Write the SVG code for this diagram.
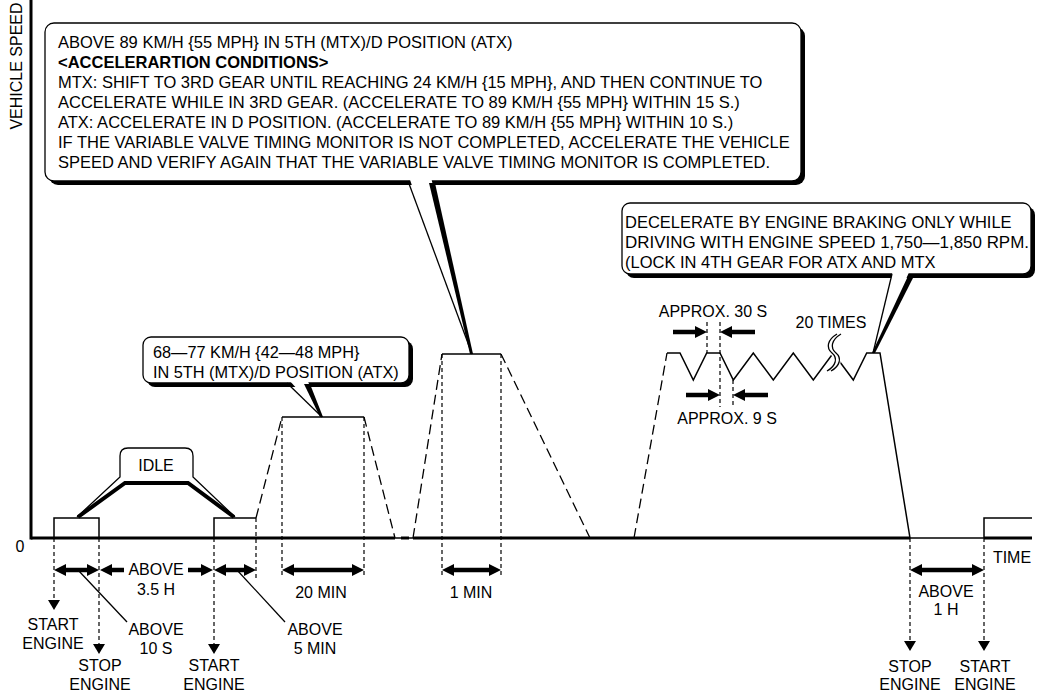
<svg xmlns="http://www.w3.org/2000/svg" width="1038" height="697" viewBox="0 0 1038 697">
<style>
text{font-family:"Liberation Sans",Arial,sans-serif;font-size:16px;fill:#000}
.c{font-size:16.5px}
.b{font-weight:bold}
.m{text-anchor:middle}
.thin{fill:none;stroke:#000;stroke-width:1.3}
.trace{fill:none;stroke:#000;stroke-width:1.5}
.dash{fill:none;stroke:#000;stroke-width:1.3;stroke-dasharray:10 5}
.guide{fill:none;stroke:#000;stroke-width:1.2;stroke-dasharray:4 3}
.base{fill:none;stroke:#000;stroke-width:3}
.arr{fill:none;stroke:#000;stroke-width:4.5}
.box{fill:#fff;stroke:#000;stroke-width:1.3}
.sh{fill:#000}
.wh{fill:#fff;stroke:none}
</style>
<defs>
<marker id="ah" viewBox="0 0 12 12" refX="4" refY="6" markerWidth="12" markerHeight="12" markerUnits="userSpaceOnUse" orient="auto-start-reverse"><path d="M0,0 L12,6 L0,12 z"/></marker>
</defs>

<g id="axes">
<line x1="31" y1="0" x2="31" y2="539.5" class="base"/>
<line x1="31" y1="538" x2="1032" y2="538" class="thin"/>
<text transform="translate(22,66) rotate(-90)" class="m">VEHICLE SPEED</text>
<text x="20" y="552" class="m">0</text>
<text x="1012" y="563" class="m">TIME</text>
</g>

<g id="connectors">
<line x1="31" y1="538" x2="395" y2="538" class="base"/>
<line x1="401" y1="538" x2="409" y2="538" class="base"/>
<line x1="413" y1="538" x2="910" y2="538" class="base"/>
<line x1="984" y1="538" x2="1032" y2="538" class="base"/>
<rect x="54" y="518" width="45" height="20" class="trace"/>
<polyline points="214,538 214,518 256,518" class="trace"/>
<line x1="256" y1="518" x2="282" y2="417" class="dash"/>
<line x1="282" y1="417" x2="364" y2="417" class="trace"/>
<line x1="364" y1="417" x2="395" y2="538" class="dash"/>
<line x1="413" y1="538" x2="442" y2="354" class="dash"/>
<line x1="442" y1="354" x2="501" y2="354" class="trace"/>
<line x1="501" y1="354" x2="590" y2="538" class="dash"/>
<line x1="634" y1="538" x2="667" y2="353" class="dash"/>
<polyline points="667,353 680,353 693.3,380 706.7,353 720,353 733.3,380 753.3,353 773.3,380 793.3,353 813.3,380 833.3,353 853.3,380 866.7,353 880,353 910,538" class="trace"/>
<polyline points="984,538 984,518 1032,518" class="trace"/>
<path d="M839,334 C829,340 828,348 834,353 C840,358 838,366 829,371" fill="none" stroke="#fff" stroke-width="7"/>
<path d="M837,334 C827,340 826,348 832,353 C838,358 836,366 827,371" class="thin"/>
<path d="M841,334 C831,340 830,348 836,353 C842,358 840,366 831,371" class="thin"/>

<line x1="256" y1="518" x2="256" y2="578" class="guide"/>
<line x1="282" y1="417" x2="282" y2="578" class="guide"/>
<line x1="364" y1="417" x2="364" y2="578" class="guide"/>
<line x1="442" y1="354" x2="442" y2="578" class="guide"/>
<line x1="501" y1="354" x2="501" y2="578" class="guide"/>
<line x1="707" y1="322" x2="707" y2="353" class="guide"/>
<line x1="720" y1="322" x2="720" y2="407" class="guide"/>
<line x1="733" y1="380" x2="733" y2="407" class="guide"/>
<line x1="54" y1="538" x2="54" y2="600" class="guide"/>
<line x1="99" y1="538" x2="99" y2="644" class="guide"/>
<line x1="214" y1="538" x2="214" y2="644" class="guide"/>
<line x1="910" y1="538" x2="910" y2="641" class="guide"/>
<line x1="984" y1="538" x2="984" y2="641" class="guide"/>
<polygon points="48,600 60,600 54,610"/>
<polygon points="93,644 105,644 99,654"/>
<polygon points="208,644 220,644 214,654"/>
<polygon points="904,641 916,641 910,651"/>
<polygon points="978,641 990,641 984,651"/>

<line x1="62" y1="570" x2="91" y2="570" class="arr" marker-start="url(#ah)" marker-end="url(#ah)"/>
<line x1="124" y1="570" x2="108" y2="570" class="arr" marker-end="url(#ah)"/>
<line x1="188" y1="570" x2="205" y2="570" class="arr" marker-end="url(#ah)"/>
<line x1="222" y1="570" x2="248" y2="570" class="arr" marker-start="url(#ah)" marker-end="url(#ah)"/>
<line x1="290" y1="570" x2="356" y2="570" class="arr" marker-start="url(#ah)" marker-end="url(#ah)"/>
<line x1="450" y1="570" x2="493" y2="570" class="arr" marker-start="url(#ah)" marker-end="url(#ah)"/>
<line x1="918" y1="570" x2="976" y2="570" class="arr" marker-start="url(#ah)" marker-end="url(#ah)"/>
<line x1="673" y1="332" x2="699" y2="332" class="arr" marker-end="url(#ah)"/>
<line x1="755" y1="332" x2="728" y2="332" class="arr" marker-end="url(#ah)"/>
<line x1="686" y1="395" x2="712" y2="395" class="arr" marker-end="url(#ah)"/>
<line x1="768" y1="395" x2="741" y2="395" class="arr" marker-end="url(#ah)"/>
<line x1="78" y1="570" x2="127" y2="622" class="thin"/>
<line x1="237" y1="570" x2="285" y2="622" class="thin"/>
</g>

<g id="labels">
<text x="713" y="317" class="m">APPROX. 30 S</text>
<text x="831" y="328" class="m">20 TIMES</text>
<text x="727" y="424" class="m">APPROX. 9 S</text>
<text x="53" y="630" class="m">START</text>
<text x="53" y="649" class="m">ENGINE</text>
<text x="100" y="671" class="m">STOP</text>
<text x="100" y="690" class="m">ENGINE</text>
<text x="156" y="635" class="m">ABOVE</text>
<text x="156" y="654" class="m">10 S</text>
<text x="156" y="575" class="m">ABOVE</text>
<text x="156" y="595" class="m">3.5 H</text>
<text x="214" y="671" class="m">START</text>
<text x="214" y="690" class="m">ENGINE</text>
<text x="315" y="635" class="m">ABOVE</text>
<text x="315" y="654" class="m">5 MIN</text>
<text x="321" y="598" class="m">20 MIN</text>
<text x="471" y="598" class="m">1 MIN</text>
<text x="946" y="597" class="m">ABOVE</text>
<text x="946" y="615" class="m">1 H</text>
<text x="910" y="672" class="m">STOP</text>
<text x="910" y="690" class="m">ENGINE</text>
<text x="985" y="672" class="m">START</text>
<text x="985" y="690" class="m">ENGINE</text>
</g>

<g id="idle-callout">
<path d="M77,517 L120,477 L120,456 Q120,448 128,448 L185,448 Q193,448 193,456 L193,477 L235,517" class="thin" fill="#fff"/>
<polyline points="78,517 125,483 188,483 234,517" fill="none" stroke="#000" stroke-width="4"/>
<text x="156" y="471" class="m">IDLE</text>
</g>

<g id="speed-callout-1">
<rect x="147" y="341" width="266" height="46" rx="8" class="sh"/>
<rect x="143" y="337" width="266" height="46" rx="8" class="box"/>
<polygon points="288,379 307,379 322,416" class="wh"/>
<line x1="287" y1="383" x2="322" y2="417" class="thin"/>
<polygon points="304,384 310,384 323,417 320,417" class="sh"/>
<text x="153" y="358" style="font-size:16.3px">68—77 KM/H {42—48 MPH}</text>
<text x="153" y="378" style="font-size:16.3px">IN 5TH (MTX)/D POSITION (ATX)</text>
</g>

<g id="speed-callout-2">
<rect x="49" y="27" width="756" height="158" rx="9" class="sh"/>
<rect x="45" y="23" width="756" height="158" rx="9" class="box"/>
<polygon points="409,177 431,177 471,353" class="wh"/>
<line x1="408" y1="181" x2="472" y2="354" class="thin"/>
<polygon points="429,183 435,183 473,354 470,354" class="sh"/>
<text x="58" y="48" class="c">ABOVE 89 KM/H {55 MPH} IN 5TH (MTX)/D POSITION (ATX)</text>
<text x="58" y="68" class="c b">&lt;ACCELERARTION CONDITIONS&gt;</text>
<text x="58" y="88" class="c">MTX: SHIFT TO 3RD GEAR UNTIL REACHING 24 KM/H {15 MPH}, AND THEN CONTINUE TO</text>
<text x="58" y="108" class="c">ACCELERATE WHILE IN 3RD GEAR. (ACCELERATE TO 89 KM/H {55 MPH} WITHIN 15 S.)</text>
<text x="58" y="128" class="c">ATX: ACCELERATE IN D POSITION. (ACCELERATE TO 89 KM/H {55 MPH} WITHIN 10 S.)</text>
<text x="58" y="148" class="c">IF THE VARIABLE VALVE TIMING MONITOR IS NOT COMPLETED, ACCELERATE THE VEHICLE</text>
<text x="58" y="168" class="c">SPEED AND VERIFY AGAIN THAT THE VARIABLE VALVE TIMING MONITOR IS COMPLETED.</text>
</g>

<g id="decel-callout">
<rect x="626" y="207" width="409" height="71" rx="8" class="sh"/>
<rect x="622" y="203" width="409" height="71" rx="8" class="box"/>
<polygon points="893,270 910,270 874,352" class="wh"/>
<line x1="892" y1="274" x2="873" y2="353" class="thin"/>
<polygon points="908,276 914,276 875,353 872,353" class="sh"/>
<text x="625" y="228" class="c">DECELERATE BY ENGINE BRAKING ONLY WHILE</text>
<text x="625" y="248" class="c" textLength="404" lengthAdjust="spacingAndGlyphs">DRIVING WITH ENGINE SPEED 1,750—1,850 RPM.</text>
<text x="625" y="268" class="c">(LOCK IN 4TH GEAR FOR ATX AND MTX</text>
</g>
</svg>
